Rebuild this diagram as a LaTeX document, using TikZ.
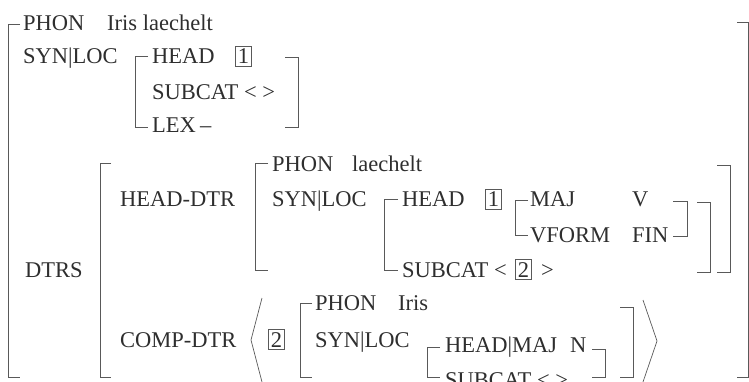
\documentclass[tikz,border=0pt]{standalone}
\usepackage{fontspec}
\setmainfont{Liberation Serif}
\usepackage{xcolor}
\definecolor{avmtext}{gray}{0.18}
\definecolor{avmline}{gray}{0.35}

\begin{document}
\begin{tikzpicture}[x=1pt, y=-1pt,
  font=\fontsize{22.5}{27}\selectfont,
  feat/.style={anchor=base west, inner sep=0pt, text=avmtext},
  tagbox/.style={draw=avmline, line width=0.8pt, anchor=base west, inner sep=2.4pt, text=avmtext},
  brak/.style={draw=avmline, line width=0.9pt}]

  \clip (0,0) rectangle (749,382);

  % Outer AVM
  \draw[brak] (20,24) -- (8,24) -- (8,377) -- (20,377);
  \draw[brak] (737,22) -- (748,22) -- (748,377) -- (737,377);
  \node[feat] (phon) at (23,31) {PHON};
  \node[feat] (phonval) at (107,31) {Iris laechelt};
  \node[feat] (synloc) at (23,64) {SYN|LOC};

  % SYN|LOC value
  \draw[brak] (148,56) -- (135,56) -- (135,127) -- (148,127);
  \draw[brak] (285,57) -- (298,57) -- (298,127) -- (285,127);
  \node[feat] (head) at (152,64) {HEAD};
  \node[tagbox] (tagone) at (235,64) {1};
  \node[feat] (subcat) at (152,100) {SUBCAT < >};
  \node[feat] (lex) at (152,133) {LEX};
  \node[feat] (lexval) at (200,133) {--};

  % DTRS
  \node[feat] (dtrs) at (25,277) {DTRS};
  \draw[brak] (111,163) -- (100,163) -- (100,377) -- (111,377);

  % Head daughter
  \node[feat] (hdtr) at (120,207) {HEAD-DTR};
  \draw[brak] (268,163) -- (255,163) -- (255,270) -- (268,270);
  \draw[brak] (717,165) -- (730,165) -- (730,272) -- (717,272);
  \node[feat] (hphon) at (272,172) {PHON};
  \node[feat] (hphonval) at (352,172) {laechelt};
  \node[feat] (hsynloc) at (272,207) {SYN|LOC};

  % Head daughter SYN|LOC value
  \draw[brak] (398,199) -- (384,199) -- (384,270) -- (398,270);
  \draw[brak] (697,202) -- (710,202) -- (710,272) -- (697,272);
  \node[feat] (hhead) at (402,207) {HEAD};
  \node[tagbox] (htagone) at (485,207) {1};
  \node[feat] (hsubcat) at (402,277) {SUBCAT <};
  \node[tagbox] (htagtwo) at (515,277) {2};
  \node[feat] (hsubcatend) at (541,277) {>};

  % HEAD value
  \draw[brak] (528,200) -- (515,200) -- (515,235) -- (528,235);
  \draw[brak] (673,201) -- (687,201) -- (687,236) -- (673,236);
  \node[feat] (maj) at (530,207) {MAJ};
  \node[feat] (majval) at (632,207) {V};
  \node[feat] (vform) at (530,242) {VFORM};
  \node[feat] (vformval) at (632,242) {FIN};

  % Complement daughter
  \node[feat] (cdtr) at (120,347) {COMP-DTR};
  \draw[brak, line width=0.7pt] (262,298) -- (251,340) -- (262,382);
  \node[tagbox] (ctagtwo) at (268,347) {2};
  \draw[brak] (312,303) -- (300,303) -- (300,377) -- (312,377);
  \draw[brak] (620,307) -- (633,307) -- (633,377) -- (620,377);
  \draw[brak, line width=0.7pt] (643,300) -- (657,341) -- (643,382);
  \node[feat] (cphon) at (315,310) {PHON};
  \node[feat] (cphonval) at (398,310) {Iris};
  \node[feat] (csynloc) at (315,347) {SYN|LOC};

  % Complement SYN|LOC value
  \draw[brak] (440,347) -- (427,347) -- (427,377) -- (440,377);
  \draw[brak] (592,349) -- (605,349) -- (605,377) -- (592,377);
  \node[feat] (cheadmaj) at (445,352) {HEAD|MAJ};
  \node[feat] (cheadmajval) at (570,352) {N};
  \node[feat] (csubcat) at (445,387) {SUBCAT < >};

\end{tikzpicture}
\end{document}
